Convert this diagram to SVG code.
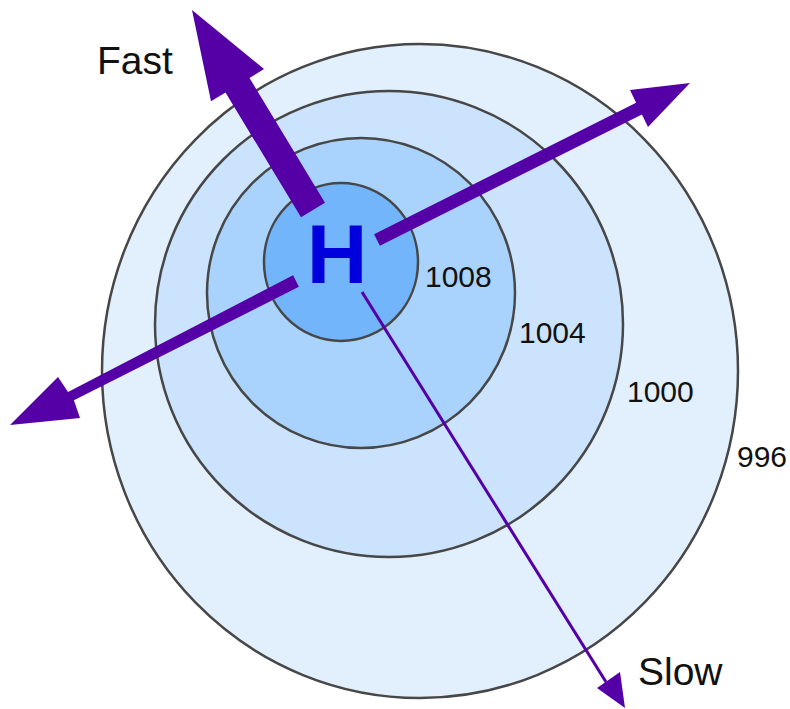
<svg xmlns="http://www.w3.org/2000/svg" width="790" height="709" viewBox="0 0 790 709">
<style>
.ring{stroke:#474747;stroke-width:2.5}
.arrow{fill:#5500a6}
.lbl{font-family:"Liberation Sans",Arial,Helvetica,sans-serif;fill:#111}
.num{font-size:30px}
.word{font-size:39px}
</style>
<rect width="790" height="709" fill="#ffffff"/>
<g id="ring-996">
<ellipse class="ring" cx="420" cy="371" rx="318" ry="327" fill="#e2effd"/>
<text class="lbl num" x="737" y="467">996</text>
</g>
<g id="ring-1000">
<ellipse class="ring" cx="389" cy="324" rx="234" ry="233" fill="#cbe3fd"/>
<text class="lbl num" x="627" y="402">1000</text>
</g>
<g id="ring-1004">
<ellipse class="ring" cx="361" cy="293" rx="154" ry="155" fill="#a9d2fc"/>
<text class="lbl num" x="519" y="343">1004</text>
</g>
<g id="ring-1008">
<ellipse class="ring" cx="341" cy="262" rx="77" ry="79" fill="#73b5fa"/>
<text class="lbl num" x="425" y="287">1008</text>
</g>
<g id="connectors">
<polygon id="arrow-fast" class="arrow" points="325,202.8 249.5,78.1 264,69 192,10 211,101.3 225.5,92.5 301,217.2"/>
<polygon id="arrow-right" class="arrow" points="374.1,234.2 636.1,102.8 630,90 690,83 648,127 641.9,114.4 379.9,245.8"/>
<polygon id="arrow-left" class="arrow" points="298.9,286.8 73.9,400.2 80,418 10,425 58,377 68,392 293.1,275.2"/>
<line id="arrow-slow-line" x1="362" y1="292" x2="606" y2="682" stroke="#5500a6" stroke-width="3"/>
<polygon id="arrow-slow-head" class="arrow" points="597,688 620,672 625,708"/>
</g>
<g id="center-H">
<text x="337" y="283" text-anchor="middle" font-family="'Liberation Sans',Arial,Helvetica,sans-serif" font-weight="bold" font-size="84" fill="#0000dd">H</text>
</g>
<g id="label-fast"><text class="lbl word" x="97" y="74">Fast</text></g>
<g id="label-slow"><text class="lbl word" x="638" y="685">Slow</text></g>
</svg>
